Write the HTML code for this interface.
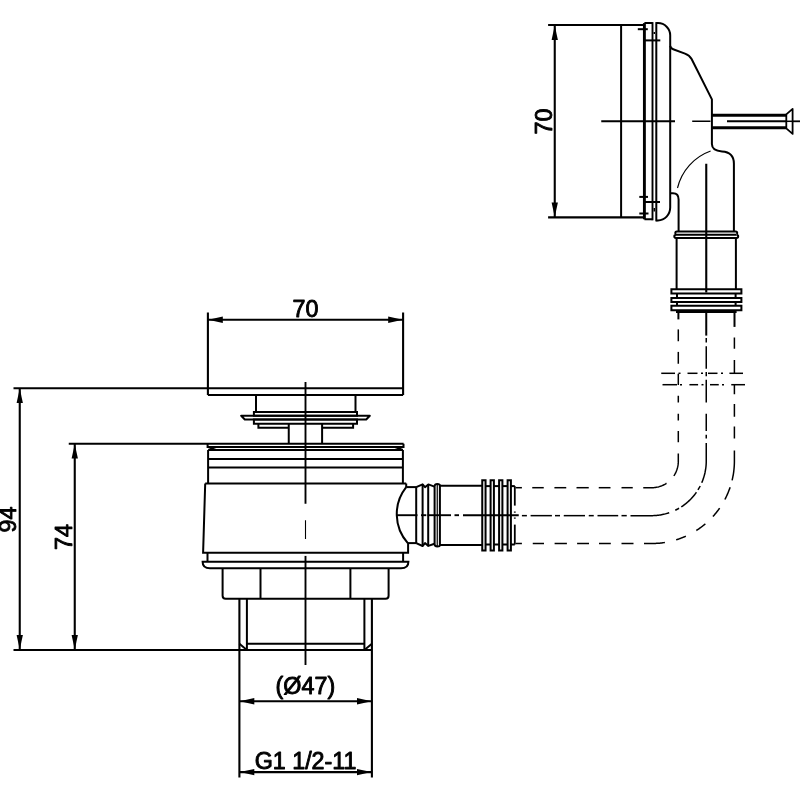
<!DOCTYPE html>
<html><head><meta charset="utf-8"><title>Drawing</title>
<style>
html,body{margin:0;padding:0;background:#fff;}
svg{display:block;}
text{font-family:"Liberation Sans",Arial,Helvetica,sans-serif;}
svg{will-change:transform;}
</style></head>
<body>
<svg width="800" height="800" viewBox="0 0 800 800">
<rect x="0" y="0" width="800" height="800" fill="#fff"/>
<g fill="none" stroke="#000" stroke-linecap="butt" stroke-linejoin="miter">
<path d="M13.50,388.25 L403.10,388.25" stroke-width="2.1" />
<path d="M68.75,443.75 L403.60,443.75" stroke-width="2.1" />
<path d="M13.50,650.00 L371.90,650.00" stroke-width="2.1" />
<path d="M19.75,388.25 L19.75,650.00" stroke-width="2.1" />
<path d="M19.75,388.60 L22.90,403.10 L16.60,403.10 Z" fill="#000" stroke="none"/>
<path d="M19.75,649.60 L16.60,635.10 L22.90,635.10 Z" fill="#000" stroke="none"/>
<path d="M74.75,443.75 L74.75,650.00" stroke-width="2.1" />
<path d="M74.75,444.10 L77.90,458.60 L71.60,458.60 Z" fill="#000" stroke="none"/>
<path d="M74.75,649.60 L71.60,635.10 L77.90,635.10 Z" fill="#000" stroke="none"/>
<text x="16.50" y="519.60" font-size="23.3" text-anchor="middle" fill="#000" stroke="#000" stroke-width="0.9" stroke-linejoin="round" transform="rotate(-90 16.50 519.60)">94</text>
<text x="71.90" y="537.10" font-size="23.3" text-anchor="middle" fill="#000" stroke="#000" stroke-width="0.9" stroke-linejoin="round" transform="rotate(-90 71.90 537.10)">74</text>
<path d="M207.90,312.50 L207.90,395.00" stroke-width="2.1" />
<path d="M403.10,312.50 L403.10,395.00" stroke-width="2.1" />
<path d="M207.90,319.75 L403.10,319.75" stroke-width="2.1" />
<path d="M208.30,319.75 L222.80,316.60 L222.80,322.90 Z" fill="#000" stroke="none"/>
<path d="M402.70,319.75 L388.20,322.90 L388.20,316.60 Z" fill="#000" stroke="none"/>
<text x="305.50" y="317.00" font-size="23.3" text-anchor="middle" fill="#000" stroke="#000" stroke-width="0.9" stroke-linejoin="round">70</text>
<path d="M239.40,598.70 L239.40,777.50" stroke-width="2.1" />
<path d="M371.90,598.70 L371.90,777.50" stroke-width="2.1" />
<path d="M239.40,701.25 L371.90,701.25" stroke-width="2.1" />
<path d="M239.80,701.25 L254.30,698.10 L254.30,704.40 Z" fill="#000" stroke="none"/>
<path d="M371.50,701.25 L357.00,704.40 L357.00,698.10 Z" fill="#000" stroke="none"/>
<path d="M239.40,772.10 L371.90,772.10" stroke-width="2.1" />
<path d="M239.80,772.10 L254.30,768.95 L254.30,775.25 Z" fill="#000" stroke="none"/>
<path d="M371.50,772.10 L357.00,775.25 L357.00,768.95 Z" fill="#000" stroke="none"/>
<text x="305.40" y="693.80" font-size="23.3" text-anchor="middle" fill="#000" stroke="#000" stroke-width="0.9" stroke-linejoin="round">(Ø47)</text>
<text x="305.60" y="769.10" font-size="23.3" text-anchor="middle" fill="#000" stroke="#000" stroke-width="0.9" stroke-linejoin="round">G1 1/2-11</text>
<path d="M207.90,394.90 L403.10,394.90" stroke-width="2.0" />
<path d="M256.00,395.00 L256.00,412.00" stroke-width="2.0" />
<path d="M355.50,395.00 L355.50,412.00" stroke-width="2.0" />
<path d="M253.90,411.90 H357.00 V415.80 H253.90 Z" stroke-width="2.0" />
<path d="M241.2,415.8 H369.8 L366.2,419.5 H244.8 Z" stroke-width="2.0" stroke-linejoin="round"/>
<path d="M253.90,419.50 H357.00 V423.75 H253.90 Z" stroke-width="2.0" />
<path d="M258.4,423.75 V427.8 H288.75 M353.1,423.75 V427.8 H322.1" stroke-width="2.0" />
<path d="M288.75,423.75 L288.75,443.75" stroke-width="2.0" />
<path d="M322.10,423.75 L322.10,443.75" stroke-width="2.0" />
<path d="M207.6,443.75 V446.9 H403.5 V443.75" stroke-width="2.0" />
<path d="M207.6,446.9 L216,450 M403.5,446.9 L395,450" stroke-width="2.0" />
<path d="M208.10,450.00 L403.00,450.00" stroke-width="2.0" />
<path d="M208.10,450.00 L208.10,483.50" stroke-width="2.0" />
<path d="M402.90,450.00 L402.90,483.50" stroke-width="2.0" />
<path d="M208.10,459.00 L403.00,459.00" stroke-width="2.0" />
<path d="M208.10,467.50 L403.00,467.50" stroke-width="2.0" />
<path d="M205.20,483.50 L406.20,483.50" stroke-width="2.0" />
<path d="M205.2,483.5 L203.1,552.75 H408.1 V543.1" stroke-width="2.0" />
<path d="M406.2,483.5 V487.1" stroke-width="2.0" />
<path d="M406.2,487.1 A43.5,43.5 0 0 0 407.8,543.1" stroke-width="2.0" />
<path d="M207.50,552.75 L207.50,561.70" stroke-width="2.0" />
<path d="M403.10,552.75 L403.10,561.70" stroke-width="2.0" />
<path d="M202.6,561.7 H408.4 C408.4,566 405.5,568.3 401,568.3 H210 C205.5,568.3 202.6,566 202.6,561.7 Z" stroke-width="2.0" />
<path d="M222.6,568.3 V595.7 Q222.6,598.7 225.6,598.7 H385.6 Q388.6,598.7 388.6,595.7 V568.3" stroke-width="2.0" />
<path d="M260.50,568.30 L260.50,598.70" stroke-width="2.0" />
<path d="M350.40,568.30 L350.40,598.70" stroke-width="2.0" />
<path d="M246.90,598.70 L246.90,650.00" stroke-width="2.0" />
<path d="M364.40,598.70 L364.40,650.00" stroke-width="2.0" />
<path d="M246.90,643.75 L364.40,643.75" stroke-width="2.0" />
<path d="M239.40,643.75 L246.90,650.00" stroke-width="2.0" />
<path d="M371.90,643.75 L364.40,650.00" stroke-width="2.0" />
<path d="M305.50,382.00 L305.50,503.75" stroke-width="1.9" />
<path d="M305.50,520.25 L305.50,539.00" stroke-width="1.1" />
<path d="M305.50,555.90 L305.50,665.00" stroke-width="1.9" />
<path d="M406.20,487.10 L416.20,487.10" stroke-width="2.0" />
<path d="M407.80,543.10 L416.20,543.10" stroke-width="2.0" />
<path d="M416.2,487.1 L422.6,484.3 L425,487.2 L428.3,484.4 L434.5,486.6" stroke-width="2.0" stroke-linejoin="round"/>
<path d="M416.2,543.2 L422.6,546.0 L425,543.1 L428.3,545.9 L434.5,543.7" stroke-width="2.0" stroke-linejoin="round"/>
<path d="M416.20,487.10 L416.20,543.10" stroke-width="2.0" />
<path d="M422.60,484.40 L422.60,545.80" stroke-width="2.0" />
<path d="M428.20,484.40 L428.20,545.80" stroke-width="2.0" />
<path d="M434.6,486 Q434.8,484.0 437.3,484.0 Q439.9,484.0 439.9,485.5 V544.9 Q439.9,546.4 437.3,546.4 Q434.8,546.4 434.6,544.4 Z" stroke-width="2.0" />
<path d="M437.25,484.00 L437.25,546.40" stroke-width="1.2" />
<path d="M439.80,485.70 L482.00,485.70" stroke-width="2.0" />
<path d="M439.80,544.90 L482.00,544.90" stroke-width="2.0" />
<path d="M482.25,480.20 H485.55 V550.40 H482.25 Z" stroke-width="2.0" />
<path d="M490.60,480.20 H493.90 V550.40 H490.60 Z" stroke-width="2.0" />
<path d="M499.10,480.20 H502.40 V550.40 H499.10 Z" stroke-width="2.0" />
<path d="M507.60,480.20 H510.90 V550.40 H507.60 Z" stroke-width="2.0" />
<path d="M485.50,486.10 L490.60,486.10" stroke-width="2.0" />
<path d="M485.50,544.50 L490.60,544.50" stroke-width="2.0" />
<path d="M493.90,486.10 L499.10,486.10" stroke-width="2.0" />
<path d="M493.90,544.50 L499.10,544.50" stroke-width="2.0" />
<path d="M502.40,486.10 L507.60,486.10" stroke-width="2.0" />
<path d="M502.40,544.50 L507.60,544.50" stroke-width="2.0" />
<path d="M510.90,486.10 L514.80,486.10" stroke-width="2.0" />
<path d="M510.90,544.50 L514.80,544.50" stroke-width="2.0" />
<path d="M514.80,486.10 L514.80,505.60" stroke-width="1.8" />
<path d="M514.80,524.60 L514.80,544.50" stroke-width="1.8" />
<path d="M514.80,511.50 L514.80,512.70" stroke-width="1.8" />
<path d="M514.80,517.50 L514.80,518.70" stroke-width="1.8" />
<path d="M396.80,515.20 L417.50,515.20" stroke-width="1.9" />
<path d="M421.00,515.20 L426.30,515.20" stroke-width="1.9" />
<path d="M427.60,515.20 L451.00,515.20" stroke-width="1.9" />
<path d="M454.50,515.20 L459.00,515.20" stroke-width="1.9" />
<path d="M463.00,515.20 L518.75,515.20" stroke-width="1.9" />
<path d="M515.60,487.70 L516.65,487.70 L517.70,487.70 L518.75,487.70 L519.80,487.70 L520.85,487.70 L521.90,487.70" stroke-width="1.5" />
<path d="M532.25,487.70 L533.30,487.70 L534.34,487.70 L535.39,487.70 L536.43,487.70 L537.48,487.70 L538.52,487.70 L539.57,487.70 L540.61,487.70 L541.66,487.70 L542.70,487.70 L543.75,487.70" stroke-width="1.5" />
<path d="M554.40,487.70 L555.48,487.70 L556.55,487.70 L557.63,487.70 L558.71,487.70 L559.79,487.70 L560.86,487.70 L561.94,487.70 L563.02,487.70 L564.10,487.70 L565.17,487.70 L566.25,487.70" stroke-width="1.5" />
<path d="M576.50,487.70 L577.52,487.70 L578.54,487.70 L579.56,487.70 L580.58,487.70 L581.60,487.70 L582.62,487.70 L583.65,487.70 L584.67,487.70 L585.69,487.70 L586.71,487.70 L587.73,487.70 L588.75,487.70" stroke-width="1.5" />
<path d="M598.75,487.70 L599.82,487.70 L600.89,487.70 L601.95,487.70 L603.02,487.70 L604.09,487.70 L605.16,487.70 L606.23,487.70 L607.30,487.70 L608.36,487.70 L609.43,487.70 L610.50,487.70" stroke-width="1.5" />
<path d="M621.50,487.70 L622.52,487.70 L623.55,487.70 L624.57,487.70 L625.59,487.70 L626.61,487.70 L627.64,487.70 L628.66,487.70 L629.68,487.70 L630.70,487.70 L631.73,487.70 L632.75,487.70" stroke-width="1.5" />
<path d="M643.25,487.70 L644.26,487.70 L645.26,487.70 L646.27,487.70 L647.27,487.70 L648.28,487.70 L649.28,487.70 L650.29,487.70 L651.30,487.70 L652.30,487.70 L653.31,487.66 L654.31,487.58 L655.31,487.47 L656.30,487.31 L657.29,487.13 L658.27,486.90 L659.24,486.63 L660.20,486.33 L661.15,486.00 L662.08,485.62 L663.00,485.22 L663.90,484.77 L664.79,484.30 L665.66,483.79 L666.50,483.25" stroke-width="1.5" />
<path d="M673.82,475.94 L674.37,475.09 L674.88,474.21 L675.37,473.32 L675.81,472.41 L676.22,471.48 L676.60,470.54 L676.94,469.58 L677.24,468.62 L677.51,467.64 L677.73,466.65 L677.92,465.65 L678.07,464.65 L678.19,463.64 L678.26,462.63 L678.30,461.62 L678.30,460.60 L678.30,459.59 L678.30,458.57 L678.30,457.56 L678.30,456.54 L678.30,455.53 L678.30,454.51 L678.30,453.50" stroke-width="1.5" />
<path d="M678.30,442.25 L678.30,441.23 L678.30,440.20 L678.30,439.18 L678.30,438.16 L678.30,437.14 L678.30,436.11 L678.30,435.09 L678.30,434.07 L678.30,433.05 L678.30,432.02 L678.30,431.00" stroke-width="1.5" />
<path d="M678.30,420.50 L678.30,419.38 L678.30,418.25 L678.30,417.12 L678.30,416.00 L678.30,414.88 L678.30,413.75" stroke-width="1.5" />
<path d="M678.30,402.50 L678.30,401.38 L678.30,400.25 L678.30,399.12 L678.30,398.00 L678.30,396.88 L678.30,395.75" stroke-width="1.5" />
<path d="M678.30,385.00 L678.30,383.98 L678.30,382.95 L678.30,381.93 L678.30,380.91 L678.30,379.89 L678.30,378.86 L678.30,377.84 L678.30,376.82 L678.30,375.80 L678.30,374.77 L678.30,373.75" stroke-width="1.5" />
<path d="M678.30,363.75 L678.30,362.67 L678.30,361.60 L678.30,360.52 L678.30,359.44 L678.30,358.36 L678.30,357.29 L678.30,356.21 L678.30,355.13 L678.30,354.05 L678.30,352.98 L678.30,351.90" stroke-width="1.5" />
<path d="M678.30,341.25 L678.30,340.17 L678.30,339.10 L678.30,338.02 L678.30,336.94 L678.30,335.86 L678.30,334.79 L678.30,333.71 L678.30,332.63 L678.30,331.55 L678.30,330.48 L678.30,329.40" stroke-width="1.5" />
<path d="M678.40,319.40 L678.40,312.50" stroke-width="2.0" />
<path d="M521.90,515.65 L522.90,515.65 L523.90,515.65 L524.90,515.65 L525.90,515.65 L526.90,515.65" stroke-width="1.5" />
<path d="M530.60,515.65 L531.61,515.65 L532.63,515.65 L533.64,515.65 L534.66,515.65 L535.67,515.65 L536.69,515.65 L537.70,515.65 L538.71,515.65 L539.73,515.65 L540.74,515.65 L541.76,515.65 L542.77,515.65 L543.79,515.65 L544.80,515.65 L545.81,515.65 L546.83,515.65 L547.84,515.65 L548.86,515.65 L549.87,515.65 L550.89,515.65 L551.90,515.65" stroke-width="1.5" />
<path d="M555.00,515.65 L556.00,515.65 L557.00,515.65 L558.00,515.65 L559.00,515.65 L560.00,515.65" stroke-width="1.5" />
<path d="M563.75,515.65 L564.76,515.65 L565.77,515.65 L566.79,515.65 L567.80,515.65 L568.81,515.65 L569.82,515.65 L570.83,515.65 L571.85,515.65 L572.86,515.65 L573.87,515.65 L574.88,515.65 L575.89,515.65 L576.90,515.65 L577.92,515.65 L578.93,515.65 L579.94,515.65 L580.95,515.65 L581.96,515.65 L582.98,515.65 L583.99,515.65 L585.00,515.65" stroke-width="1.5" />
<path d="M588.75,515.65 L589.75,515.65 L590.75,515.65 L591.75,515.65 L592.75,515.65 L593.75,515.65" stroke-width="1.5" />
<path d="M597.50,515.65 L598.53,515.65 L599.57,515.65 L600.61,515.65 L601.64,515.65 L602.67,515.65 L603.71,515.65 L604.75,515.65 L605.78,515.65 L606.82,515.65 L607.85,515.65 L608.88,515.65 L609.92,515.65 L610.96,515.65 L611.99,515.65 L613.03,515.65 L614.06,515.65 L615.10,515.65 L616.13,515.65 L617.17,515.65 L618.20,515.65" stroke-width="1.5" />
<path d="M621.50,515.65 L622.55,515.65 L623.60,515.65 L624.65,515.65 L625.70,515.65 L626.75,515.65" stroke-width="1.5" />
<path d="M630.50,515.65 L631.50,515.65 L632.50,515.65 L633.50,515.65 L634.50,515.65 L635.50,515.65 L636.50,515.65 L637.51,515.65 L638.51,515.65 L639.51,515.65 L640.51,515.65 L641.51,515.65 L642.51,515.65 L643.51,515.65 L644.51,515.65 L645.51,515.65 L646.51,515.65 L647.51,515.65 L648.51,515.65 L649.52,515.65 L650.52,515.65 L651.52,515.65 L652.52,515.64 L653.52,515.62 L654.52,515.57 L655.52,515.51 L656.51,515.43 L657.51,515.33 L658.50,515.21 L659.50,515.08 L660.48,514.92 L661.47,514.75 L662.45,514.56 L663.43,514.35 L664.41,514.13 L665.38,513.88 L666.34,513.62 L667.31,513.34 L668.26,513.05 L669.21,512.73" stroke-width="1.5" />
<path d="M675.30,510.24 L676.25,509.77 L677.19,509.29 L678.13,508.78 L679.05,508.26" stroke-width="1.5" />
<path d="M681.28,506.89 L682.13,506.33 L682.96,505.76 L683.78,505.17 L684.59,504.57 L685.39,503.96 L686.17,503.32 L686.95,502.68 L687.71,502.02 L688.46,501.35 L689.20,500.66 L689.92,499.96 L690.64,499.25 L691.34,498.52 L692.02,497.78 L692.69,497.03 L693.35,496.26 L693.99,495.49 L694.62,494.70 L695.24,493.90 L695.84,493.09 L696.42,492.27" stroke-width="1.5" />
<path d="M697.95,489.96 L698.54,488.98 L699.12,487.99 L699.67,486.99 L700.21,485.98" stroke-width="1.5" />
<path d="M701.72,482.79 L702.11,481.86 L702.49,480.92 L702.85,479.98 L703.19,479.03 L703.51,478.07 L703.82,477.11 L704.11,476.14 L704.38,475.17 L704.63,474.19 L704.87,473.21 L705.09,472.22 L705.28,471.23 L705.46,470.24 L705.63,469.24 L705.77,468.24 L705.89,467.24 L706.00,466.23 L706.09,465.22 L706.16,464.22 L706.21,463.21 L706.24,462.20 L706.25,461.19 L706.25,460.18 L706.25,459.17 L706.25,458.16 L706.25,457.15 L706.25,456.13 L706.25,455.12 L706.25,454.11 L706.25,453.10 L706.25,452.09 L706.25,451.08 L706.25,450.07 L706.25,449.06 L706.25,448.05 L706.25,447.04 L706.25,446.03 L706.25,445.02 L706.25,444.01 L706.25,443.00" stroke-width="1.5" />
<path d="M706.25,438.50 L706.25,437.25 L706.25,436.00 L706.25,434.75" stroke-width="1.5" />
<path d="M706.25,431.00 L706.25,429.99 L706.25,428.97 L706.25,427.96 L706.25,426.94 L706.25,425.93 L706.25,424.91 L706.25,423.90 L706.25,422.88 L706.25,421.87 L706.25,420.85 L706.25,419.84 L706.25,418.82 L706.25,417.81 L706.25,416.79 L706.25,415.78 L706.25,414.76 L706.25,413.75" stroke-width="1.5" />
<path d="M706.25,402.50 L706.25,401.46 L706.25,400.43 L706.25,399.39 L706.25,398.35 L706.25,397.32 L706.25,396.28 L706.25,395.25 L706.25,394.21 L706.25,393.17 L706.25,392.14 L706.25,391.10 L706.25,390.06 L706.25,389.03 L706.25,387.99 L706.25,386.95 L706.25,385.92 L706.25,384.88 L706.25,383.85 L706.25,382.81 L706.25,381.77 L706.25,380.74 L706.25,379.70" stroke-width="1.5" />
<path d="M706.25,376.25 L706.25,375.16 L706.25,374.07 L706.25,372.99 L706.25,371.90" stroke-width="1.5" />
<path d="M706.25,368.75 L706.25,367.73 L706.25,366.70 L706.25,365.68 L706.25,364.66 L706.25,363.64 L706.25,362.61 L706.25,361.59 L706.25,360.57 L706.25,359.55 L706.25,358.52 L706.25,357.50 L706.25,356.48 L706.25,355.45 L706.25,354.43 L706.25,353.41 L706.25,352.39 L706.25,351.36 L706.25,350.34 L706.25,349.32 L706.25,348.30 L706.25,347.27 L706.25,346.25" stroke-width="1.5" />
<path d="M706.25,342.50 L706.25,341.40 L706.25,340.30 L706.25,339.20 L706.25,338.10" stroke-width="1.5" />
<path d="M706.25,335.60 L706.25,312.50" stroke-width="2.0" />
<path d="M515.60,543.50 L516.65,543.50 L517.70,543.50 L518.75,543.50 L519.80,543.50 L520.85,543.50 L521.90,543.50" stroke-width="1.5" />
<path d="M532.75,543.50 L533.77,543.50 L534.80,543.50 L535.82,543.50 L536.84,543.50 L537.86,543.50 L538.89,543.50 L539.91,543.50 L540.93,543.50 L541.95,543.50 L542.98,543.50 L544.00,543.50" stroke-width="1.5" />
<path d="M554.60,543.50 L555.62,543.50 L556.65,543.50 L557.67,543.50 L558.70,543.50 L559.73,543.50 L560.75,543.50 L561.77,543.50 L562.80,543.50 L563.83,543.50 L564.85,543.50 L565.88,543.50 L566.90,543.50" stroke-width="1.5" />
<path d="M577.10,543.50 L578.18,543.50 L579.26,543.50 L580.35,543.50 L581.43,543.50 L582.51,543.50 L583.59,543.50 L584.67,543.50 L585.75,543.50 L586.84,543.50 L587.92,543.50 L589.00,543.50" stroke-width="1.5" />
<path d="M599.00,543.50 L600.07,543.50 L601.15,543.50 L602.22,543.50 L603.29,543.50 L604.36,543.50 L605.44,543.50 L606.51,543.50 L607.58,543.50 L608.65,543.50 L609.73,543.50 L610.80,543.50" stroke-width="1.5" />
<path d="M621.50,543.50 L622.50,543.50 L623.50,543.50 L624.50,543.50 L625.50,543.50 L626.50,543.50 L627.50,543.50 L628.50,543.50 L629.50,543.50 L630.50,543.50 L631.50,543.50 L632.50,543.50 L633.50,543.50" stroke-width="1.5" />
<path d="M644.00,543.50 L645.05,543.50 L646.10,543.50 L647.14,543.50 L648.19,543.50 L649.24,543.50 L650.29,543.50 L651.34,543.50 L652.38,543.50 L653.43,543.49 L654.48,543.46 L655.53,543.42 L656.57,543.37 L657.62,543.30 L658.66,543.22 L659.71,543.13 L660.75,543.02 L661.79,542.90 L662.83,542.77 L663.87,542.63 L664.91,542.47" stroke-width="1.5" />
<path d="M676.16,539.85 L677.15,539.54 L678.13,539.22 L679.11,538.88 L680.09,538.53 L681.06,538.17 L682.03,537.80 L682.99,537.42 L683.95,537.02 L684.90,536.61 L685.85,536.19" stroke-width="1.5" />
<path d="M696.35,530.50 L697.21,529.95 L698.06,529.38 L698.90,528.80 L699.73,528.22 L700.56,527.62 L701.38,527.01 L702.20,526.40 L703.00,525.77 L703.80,525.13 L704.59,524.48 L705.37,523.83" stroke-width="1.5" />
<path d="M712.92,516.52 L713.64,515.72 L714.35,514.91 L715.05,514.09 L715.74,513.25 L716.42,512.41 L717.09,511.56 L717.74,510.71 L718.39,509.84 L719.02,508.97 L719.64,508.08" stroke-width="1.5" />
<path d="M724.88,499.48 L725.35,498.56 L725.82,497.64 L726.27,496.72 L726.71,495.79 L727.14,494.85 L727.55,493.91 L727.96,492.96 L728.35,492.01 L728.73,491.05 L729.10,490.09 L729.46,489.12 L729.80,488.15 L730.14,487.18" stroke-width="1.5" />
<path d="M732.09,480.40 L732.32,479.42 L732.53,478.44 L732.74,477.46 L732.93,476.48 L733.12,475.49 L733.29,474.51 L733.45,473.51 L733.59,472.52 L733.73,471.53 L733.85,470.53 L733.96,469.54 L734.05,468.54 L734.14,467.54 L734.21,466.54 L734.28,465.54 L734.32,464.54 L734.36,463.54 L734.39,462.53 L734.40,461.53 L734.40,460.53 L734.40,459.52 L734.40,458.52 L734.40,457.52 L734.40,456.52 L734.40,455.51 L734.40,454.51 L734.40,453.51 L734.40,452.51 L734.40,451.50 L734.40,450.50" stroke-width="1.5" />
<path d="M734.40,438.50 L734.40,437.50 L734.40,436.50 L734.40,435.50 L734.40,434.50 L734.40,433.50 L734.40,432.50 L734.40,431.50 L734.40,430.50 L734.40,429.50 L734.40,428.50 L734.40,427.50 L734.40,426.50" stroke-width="1.5" />
<path d="M734.40,416.75 L734.40,415.69 L734.40,414.62 L734.40,413.56 L734.40,412.50 L734.40,411.44 L734.40,410.38 L734.40,409.31 L734.40,408.25 L734.40,407.19 L734.40,406.12 L734.40,405.06 L734.40,404.00" stroke-width="1.5" />
<path d="M734.40,394.25 L734.40,393.22 L734.40,392.19 L734.40,391.17 L734.40,390.14 L734.40,389.11 L734.40,388.08 L734.40,387.06 L734.40,386.03 L734.40,385.00" stroke-width="1.5" />
<path d="M734.40,373.10 L734.40,372.09 L734.40,371.08 L734.40,370.08 L734.40,369.07 L734.40,368.06 L734.40,367.05 L734.40,366.05 L734.40,365.04 L734.40,364.03 L734.40,363.02 L734.40,362.02 L734.40,361.01 L734.40,360.00" stroke-width="1.5" />
<path d="M734.40,348.75 L734.40,347.73 L734.40,346.70 L734.40,345.68 L734.40,344.66 L734.40,343.64 L734.40,342.61 L734.40,341.59 L734.40,340.57 L734.40,339.55 L734.40,338.52 L734.40,337.50" stroke-width="1.5" />
<path d="M734.50,326.90 L734.50,312.50" stroke-width="2.0" />
<path d="M661.25,373.30 L675.00,373.30" stroke-width="1.5" />
<path d="M678.50,373.30 L680.50,373.30" stroke-width="1.5" />
<path d="M687.50,373.30 L697.50,373.30" stroke-width="1.5" />
<path d="M701.00,373.30 L703.00,373.30" stroke-width="1.5" />
<path d="M708.00,373.30 L717.50,373.30" stroke-width="1.5" />
<path d="M721.00,373.30 L723.00,373.30" stroke-width="1.5" />
<path d="M729.40,373.30 L743.00,373.30" stroke-width="1.5" />
<path d="M662.50,384.70 L677.00,384.70" stroke-width="1.5" />
<path d="M680.00,384.70 L682.00,384.70" stroke-width="1.5" />
<path d="M689.40,384.70 L698.10,384.70" stroke-width="1.5" />
<path d="M701.50,384.70 L703.50,384.70" stroke-width="1.5" />
<path d="M710.00,384.70 L718.75,384.70" stroke-width="1.5" />
<path d="M722.00,384.70 L724.00,384.70" stroke-width="1.5" />
<path d="M731.25,384.70 L745.00,384.70" stroke-width="1.5" />
<path d="M548.10,25.00 L644.00,25.00" stroke-width="2.1" />
<path d="M548.10,217.40 L644.00,217.40" stroke-width="2.1" />
<path d="M554.75,25.00 L554.75,217.40" stroke-width="2.1" />
<path d="M554.75,25.40 L557.90,39.90 L551.60,39.90 Z" fill="#000" stroke="none"/>
<path d="M554.75,217.00 L551.60,202.50 L557.90,202.50 Z" fill="#000" stroke="none"/>
<text x="551.90" y="121.50" font-size="23.3" text-anchor="middle" fill="#000" stroke="#000" stroke-width="0.9" stroke-linejoin="round" transform="rotate(-90 551.90 121.50)">70</text>
<path d="M621.10,25.00 L621.10,217.40" stroke-width="2.0" />
<path d="M644.40,23.10 L644.40,219.30" stroke-width="2.9" />
<path d="M644.4,23.1 H652.5 M644.4,219.3 H652.5" stroke-width="2.0" />
<path d="M652.5,22.1 V220.3" stroke-width="1.9" />
<path d="M656.30,22.10 L656.30,221.40" stroke-width="2.0" />
<path d="M656.3,23.1 H658 A12.2,12.2 0 0 1 670.2,35.3 V207.6 A12.4,12.8 0 0 1 658,220.4 H656.3" stroke-width="2.0" />
<path d="M637.80,29.20 L647.80,29.20" stroke-width="2.0" />
<path d="M645.00,40.40 L660.30,40.40" stroke-width="2.0" />
<path d="M639.30,196.90 L648.00,196.90" stroke-width="2.0" />
<path d="M639.30,213.50 L648.50,213.50" stroke-width="2.0" />
<path d="M645.00,202.00 L660.00,202.00" stroke-width="2.0" />
<path d="M654.30,32.00 L654.30,34.00" stroke-width="1.5" />
<path d="M654.30,208.00 L654.30,211.50" stroke-width="1.5" />
<path d="M670.2,46 Q670.6,48.4 673.2,49.3 L685,53.6 Q689.5,55.2 691.6,59 L711.9,99.4 V144 C711.9,149.5 716,151 722,151.4 C729,151.8 733.9,155 733.9,163.5 V231.5" stroke-width="2.0" stroke-linejoin="round"/>
<path d="M670.2,193.2 H673 C676.6,193.2 678.6,195.5 678.6,199.5 V231.5" stroke-width="2.0" />
<path d="M677.5,188 A52,52 0 0 1 710.6,151" stroke-width="1.15" />
<path d="M706.25,163.75 L706.25,292.50" stroke-width="2.1" />
<path d="M676.8,231.6 H735.7 Q737.2,231.6 737.2,233.1 Q737.2,234.7 736.5,234.7 Q738.2,234.7 738.2,236.3 Q738.2,237.9 736.5,237.9 H676.0 Q674.3,237.9 674.3,236.3 Q674.3,234.7 676.0,234.7 Q675.3,234.7 675.3,233.1 Q675.3,231.6 676.8,231.6 Z" stroke-width="2.0" />
<path d="M676.00,234.70 L736.50,234.70" stroke-width="2.0" />
<path d="M676.60,238.00 L676.60,289.20" stroke-width="2.0" />
<path d="M735.90,238.00 L735.90,289.20" stroke-width="2.0" />
<path d="M671.40,289.25 H741.40 V293.40 H671.40 Z" stroke-width="2.0" />
<path d="M671.40,297.90 H741.40 V302.00 H671.40 Z" stroke-width="2.0" />
<path d="M671.40,305.80 H741.40 V310.20 H671.40 Z" stroke-width="2.0" />
<path d="M677.00,293.40 L677.00,297.90" stroke-width="2.0" />
<path d="M735.60,293.40 L735.60,297.90" stroke-width="2.0" />
<path d="M677.00,302.00 L677.00,305.80" stroke-width="2.0" />
<path d="M735.60,302.00 L735.60,305.80" stroke-width="2.0" />
<path d="M676.00,311.50 L736.60,311.50" stroke-width="3.0" />
<path d="M712.00,115.20 L786.30,115.20" stroke-width="3.0" />
<path d="M712.00,127.70 L786.30,127.70" stroke-width="3.0" />
<path d="M727.00,121.30 L786.30,121.30" stroke-width="2.0" />
<path d="M786.3,114.4 L792.6,108.9 V133.9 L786.3,128.4 Z" stroke-width="1.8" stroke-linejoin="round"/>
<path d="M786.30,121.30 L792.60,121.30" stroke-width="1.5" />
<path d="M792.50,121.30 L800.00,121.30" stroke-width="1.8" />
<path d="M601.25,121.25 L675.00,121.25" stroke-width="2.0" />
<path d="M692.20,121.25 L710.50,121.25" stroke-width="1.5" />
</g>
</svg>
</body></html>
